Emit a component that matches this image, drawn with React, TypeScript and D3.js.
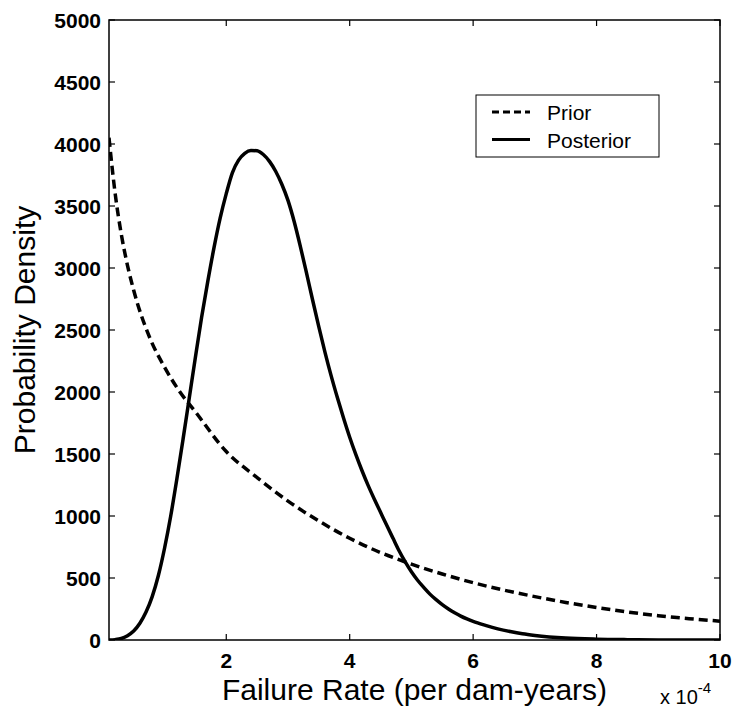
import React, { useEffect, useRef } from 'react';
import * as d3 from 'd3';

// failure rate in units of 1e-4 per dam-year
const priorX = [0.1, 0.2, 0.3, 0.4, 0.5, 0.75, 1, 1.25, 1.5, 2, 2.5, 3, 3.5, 4, 4.5, 5, 5.5, 6, 6.5, 7, 7.5, 8, 8.5, 9, 9.5, 10];
const priorY = [4050, 3600, 3270, 3020, 2820, 2450, 2200, 2000, 1840, 1520, 1310, 1120, 960, 820, 705, 612, 532, 462, 402, 350, 303, 262, 226, 196, 172, 152];

const postX = [
  0.1, 0.2, 0.3, 0.4, 0.5, 0.6, 0.7, 0.8, 0.9, 1.0,
  1.1, 1.2, 1.3, 1.4, 1.5, 1.6, 1.7, 1.8, 1.9, 2.0,
  2.1, 2.2, 2.3, 2.4, 2.5, 2.6, 2.7, 2.8, 2.9, 3.0,
  3.1, 3.2, 3.3, 3.4, 3.5, 3.6, 3.7, 3.8, 3.9, 4.0,
  4.1, 4.2, 4.3, 4.4, 4.5, 4.6, 4.7, 4.8, 4.9, 5.0,
  5.1, 5.2, 5.3, 5.4, 5.5, 5.6, 5.7, 5.8, 5.9, 6.0,
  6.2, 6.4, 6.6, 6.8, 7.0, 7.5, 8.0, 8.5, 9.0, 10,
];
const postY = [
  0, 3, 12, 35, 72, 135, 225, 350, 520, 740,
  1000, 1300, 1620, 1950, 2280, 2600, 2890, 3160, 3400, 3600,
  3770, 3870, 3925, 3948, 3945, 3915, 3860, 3780, 3675, 3545,
  3375, 3175, 2960, 2740, 2525, 2320, 2130, 1955, 1790, 1635,
  1495, 1365, 1245, 1135, 1030, 925, 822, 720, 630, 550,
  482, 424, 370, 325, 285, 250, 220, 193, 170, 150,
  118, 90, 68, 50, 37, 16, 7, 3, 1, 0,
];

const xTicks = [2, 4, 6, 8, 10];
const yTicks = [0, 500, 1000, 1500, 2000, 2500, 3000, 3500, 4000, 4500, 5000];

const legendItems = [
  { label: 'Prior', dash: '7,4' },
  { label: 'Posterior', dash: null },
];

const FONT = 'Liberation Sans, Arial, Helvetica, sans-serif';

function Chart() {
  const ref = useRef<SVGSVGElement>(null);

  useEffect(() => {
    const width = 734, height = 709;
    const left = 109, right = 720, top = 20, bottom = 640;
    const svg = d3.select(ref.current).attr('width', width).attr('height', height);
    svg.selectAll('*').remove();

    const xScale = d3.scaleLinear().domain([0.1, 10]).range([left, right]);
    const yScale = d3.scaleLinear().domain([0, 5000]).range([bottom, top]);

    svg.append('defs').append('clipPath').attr('id', 'plotclip')
      .append('rect').attr('x', left).attr('y', top - 2).attr('width', right - left).attr('height', bottom - top + 2);

    // box
    svg.append('rect').attr('x', left).attr('y', top).attr('width', right - left).attr('height', bottom - top)
      .attr('fill', 'none').attr('stroke', '#000').attr('stroke-width', 1.5);

    const tickLen = 6;
    // x ticks (bottom + top, inward)
    xTicks.forEach(t => {
      const x = xScale(t);
      svg.append('line').attr('x1', x).attr('x2', x).attr('y1', bottom).attr('y2', bottom - tickLen).attr('stroke', '#000').attr('stroke-width', 1.2);
      svg.append('line').attr('x1', x).attr('x2', x).attr('y1', top).attr('y2', top + tickLen).attr('stroke', '#000').attr('stroke-width', 1.2);
      svg.append('text').attr('x', x).attr('y', 668).attr('text-anchor', 'middle')
        .style('font-family', FONT).style('font-size', '21px').style('font-weight', 'bold').text(t);
    });
    // y ticks (left + right, inward)
    yTicks.forEach(t => {
      const y = yScale(t);
      svg.append('line').attr('x1', left).attr('x2', left + tickLen).attr('y1', y).attr('y2', y).attr('stroke', '#000').attr('stroke-width', 1.2);
      svg.append('line').attr('x1', right).attr('x2', right - tickLen).attr('y1', y).attr('y2', y).attr('stroke', '#000').attr('stroke-width', 1.2);
      svg.append('text').attr('x', 101).attr('y', y + 7.5).attr('text-anchor', 'end')
        .style('font-family', FONT).style('font-size', '21px').style('font-weight', 'bold').text(t);
    });

    const line = d3.line<[number, number]>().x(d => xScale(d[0])).y(d => yScale(d[1])).curve(d3.curveMonotoneX);
    const plot = svg.append('g').attr('clip-path', 'url(#plotclip)');

    plot.append('path').datum(d3.zip(priorX, priorY) as [number, number][]).attr('d', line)
      .attr('fill', 'none').attr('stroke', '#000').attr('stroke-width', 3.5).attr('stroke-dasharray', '9,5');
    plot.append('path').datum(d3.zip(postX, postY) as [number, number][]).attr('d', line)
      .attr('fill', 'none').attr('stroke', '#000').attr('stroke-width', 3.5).attr('stroke-linejoin', 'round');

    // axis labels
    svg.append('text').attr('x', (left + right) / 2).attr('y', 700).attr('text-anchor', 'middle')
      .style('font-family', FONT).style('font-size', '30px').text('Failure Rate (per dam-years)');
    svg.append('text').attr('transform', `translate(35, ${(top + bottom) / 2}) rotate(-90)`).attr('text-anchor', 'middle')
      .style('font-family', FONT).style('font-size', '30px').text('Probability Density');

    // exponent
    const expo = svg.append('text').attr('x', 660).attr('y', 704)
      .style('font-family', FONT).style('font-size', '20px');
    expo.append('tspan').text('x 10');
    expo.append('tspan').attr('dy', -11).style('font-size', '15px').text('-4');

    // legend
    const lg = svg.append('g');
    lg.append('rect').attr('x', 476).attr('y', 95).attr('width', 183).attr('height', 62)
      .attr('fill', '#fff').attr('stroke', '#000').attr('stroke-width', 1);
    legendItems.forEach((item, i) => {
      const y = 112 + i * 27.5;
      const l = lg.append('line').attr('x1', 492).attr('x2', 530).attr('y1', y).attr('y2', y)
        .attr('stroke', '#000').attr('stroke-width', 3);
      if (item.dash) l.attr('stroke-dasharray', item.dash);
      lg.append('text').attr('x', 547).attr('y', y + 8)
        .style('font-family', FONT).style('font-size', '21px').text(item.label);
    });
  }, []);

  return <svg ref={ref} style={{ position: 'absolute', left: 0, top: 0 }}></svg>;
}

export default function App() {
  return <Chart />;
}
